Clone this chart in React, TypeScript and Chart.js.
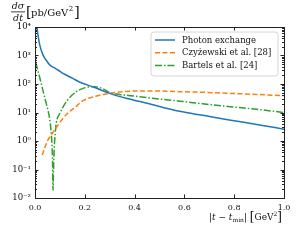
import React, { useEffect, useRef } from "react";
import { Chart, registerables } from "chart.js";

Chart.register(...registerables);

const photonX = [0.004, 0.008, 0.012, 0.019, 0.032, 0.045, 0.059, 0.075, 0.092, 0.119, 0.15, 0.181, 0.24, 0.3, 0.37, 0.45, 0.58, 0.68, 0.78, 0.89, 1.0];
const photonY = [14000, 9500, 5200, 2350, 1050, 680, 470, 380, 310, 220, 160, 115, 75, 47, 31, 21, 11, 7.8, 5.5, 3.8, 2.6];

const czyzX = [0.029, 0.04, 0.05, 0.062, 0.075, 0.088, 0.1, 0.126, 0.16, 0.193, 0.248, 0.3, 0.38, 0.48, 0.58, 0.68, 0.78, 0.89, 1.0];
const czyzY = [0.32, 0.6, 1.0, 1.5, 2.2, 3.2, 4.5, 8.5, 15, 26, 38, 47, 56, 57, 54, 51, 47, 43, 39];

const bartelsX = [0.003, 0.012, 0.025, 0.035, 0.045, 0.052, 0.059, 0.064, 0.068, 0.0705, 0.0725, 0.0745, 0.077, 0.081, 0.086, 0.099, 0.126, 0.166, 0.193, 0.215, 0.24, 0.27, 0.3, 0.34, 0.382, 0.48, 0.582, 0.68, 0.783, 0.89, 1.0];
const bartelsY = [560, 290, 105, 46, 21, 12, 6, 2.5, 0.8, 0.2, 0.019, 0.1, 0.5, 1.8, 4.5, 9, 24, 54, 70, 78, 80, 70, 50, 43, 39, 31, 25, 20, 16, 13, 10];

const xTicks = [0, 0.2, 0.4, 0.6, 0.8, 1.0];
const yTicks = [0.01, 0.1, 1, 10, 100, 1000, 10000];
const yTickLabels = ["10⁻²", "10⁻¹", "10⁰", "10¹", "10²", "10³", "10⁴"];

const seriesLabels = ["Photon exchange", "Czyżewski et al. [28]", "Bartels et al. [24]"];
const seriesColors = ["#1f77b4", "#ff7f0e", "#2ca02c"];
const seriesDash: number[][] = [[], [5, 2.5], [7, 2, 1.5, 2]];

const FONT = "DejaVu Serif";

type Seg = { t: string; font: string; dy?: number };

function drawSegs(ctx: CanvasRenderingContext2D, segs: Seg[], xRight: number, y: number) {
  let total = 0;
  for (const s of segs) {
    ctx.font = s.font;
    total += ctx.measureText(s.t).width;
  }
  let x = xRight - total;
  ctx.textAlign = "left";
  ctx.textBaseline = "alphabetic";
  for (const s of segs) {
    ctx.font = s.font;
    ctx.fillText(s.t, x, y + (s.dy || 0));
    x += ctx.measureText(s.t).width;
  }
}

const decorPlugin = {
  id: "decor",
  afterDraw(chart: any) {
    const ctx: CanvasRenderingContext2D = chart.ctx;
    const area = chart.chartArea;
    const xs = chart.scales.x;
    const ys = chart.scales.y;
    ctx.save();
    // frame
    ctx.strokeStyle = "#222";
    ctx.lineWidth = 1;
    ctx.setLineDash([]);
    ctx.strokeRect(Math.round(area.left) + 0.5, Math.round(area.top) + 0.5, Math.round(area.right - area.left), Math.round(area.bottom - area.top));
    // ticks
    ctx.beginPath();
    for (const v of xTicks) {
      const px = Math.round(xs.getPixelForValue(v)) + 0.5;
      ctx.moveTo(px, area.bottom);
      ctx.lineTo(px, area.bottom - 3.5);
      ctx.moveTo(px, area.top);
      ctx.lineTo(px, area.top + 3.5);
    }
    for (let k = -2; k <= 4; k++) {
      for (let m = 1; m <= 9; m++) {
        const v = m * Math.pow(10, k);
        if (v > 10000 || v < 0.01) continue;
        const py = Math.round(ys.getPixelForValue(v)) + 0.5;
        const len = m === 1 ? 3.5 : 2;
        ctx.moveTo(area.left, py);
        ctx.lineTo(area.left + len, py);
        ctx.moveTo(area.right, py);
        ctx.lineTo(area.right - len, py);
      }
    }
    ctx.stroke();

    // legend
    const lx = 151, ly = 32, lw = 127, lh = 44, r = 3;
    ctx.beginPath();
    ctx.moveTo(lx + r, ly);
    ctx.arcTo(lx + lw, ly, lx + lw, ly + lh, r);
    ctx.arcTo(lx + lw, ly + lh, lx, ly + lh, r);
    ctx.arcTo(lx, ly + lh, lx, ly, r);
    ctx.arcTo(lx, ly, lx + lw, ly, r);
    ctx.closePath();
    ctx.fillStyle = "rgba(255,255,255,0.8)";
    ctx.fill();
    ctx.strokeStyle = "#cccccc";
    ctx.lineWidth = 0.8;
    ctx.stroke();
    chart.data.datasets.forEach((ds: any, i: number) => {
      const yy = 40 + i * 12.7;
      ctx.beginPath();
      ctx.strokeStyle = ds.borderColor;
      ctx.lineWidth = 1.5;
      ctx.setLineDash(ds.borderDash || []);
      ctx.moveTo(155, yy);
      ctx.lineTo(175, yy);
      ctx.stroke();
      ctx.setLineDash([]);
      ctx.fillStyle = "#111";
      ctx.font = `8.5px "${FONT}"`;
      ctx.textAlign = "left";
      ctx.textBaseline = "middle";
      ctx.fillText(ds.label, 182, yy + 0.5);
    });

    // y title (fraction)
    ctx.fillStyle = "#111";
    ctx.textAlign = "center";
    ctx.textBaseline = "alphabetic";
    ctx.font = `italic 9.5px "${FONT}"`;
    ctx.fillText("dσ", 18, 9);
    ctx.fillText("dt", 18, 21);
    ctx.fillRect(11, 11.5, 14, 0.8);
    ctx.textAlign = "left";
    ctx.font = `14px "${FONT}"`;
    ctx.fillText("[", 26, 17);
    ctx.font = `10px "${FONT}"`;
    const inner = "pb/GeV";
    ctx.fillText(inner, 31, 16);
    const w = ctx.measureText(inner).width;
    ctx.font = `7px "${FONT}"`;
    ctx.fillText("2", 31 + w + 0.5, 11);
    const w2 = ctx.measureText("2").width;
    ctx.font = `14px "${FONT}"`;
    ctx.fillText("]", 31 + w + w2 + 1.5, 17);

    // x title
    ctx.fillStyle = "#111";
    drawSegs(ctx, [
      { t: "|", font: `9px "${FONT}"` },
      { t: "t", font: `italic 9px "${FONT}"` },
      { t: " − ", font: `9px "${FONT}"` },
      { t: "t", font: `italic 9px "${FONT}"` },
      { t: "min", font: `6px "${FONT}"`, dy: 2 },
      { t: "| ", font: `9px "${FONT}"` },
      { t: "[", font: `12px "${FONT}"`, dy: 1 },
      { t: "GeV", font: `9px "${FONT}"` },
      { t: "2", font: `6px "${FONT}"`, dy: -4 },
      { t: "]", font: `12px "${FONT}"`, dy: 1 },
    ], 282, 220);
    ctx.restore();
  },
};

export default function App() {
  const ref = useRef<HTMLCanvasElement | null>(null);
  useEffect(() => {
    if (!ref.current) return;
    const mk = (xsArr: number[], ysArr: number[]) => xsArr.map((x, i) => ({ x, y: ysArr[i] }));
    const chart = new Chart(ref.current, {
      type: "line",
      data: {
        datasets: [
          { label: seriesLabels[0], data: mk(photonX, photonY), borderColor: seriesColors[0], borderDash: seriesDash[0], borderWidth: 1.5, pointRadius: 0, cubicInterpolationMode: "monotone", clip: 0 } as any,
          { label: seriesLabels[1], data: mk(czyzX, czyzY), borderColor: seriesColors[1], borderDash: seriesDash[1], borderWidth: 1.5, pointRadius: 0, cubicInterpolationMode: "monotone", clip: 0 } as any,
          { label: seriesLabels[2], data: mk(bartelsX, bartelsY), borderColor: seriesColors[2], borderDash: seriesDash[2], borderWidth: 1.5, pointRadius: 0, cubicInterpolationMode: "monotone", clip: 0 } as any,
        ],
      },
      options: {
        animation: false,
        responsive: false,
        devicePixelRatio: 1,
        layout: { padding: { left: 0, top: 27, right: 16, bottom: 22 } },
        plugins: { legend: { display: false }, tooltip: { enabled: false } },
        scales: {
          x: {
            type: "linear",
            min: 0,
            max: 1,
            grid: { display: false, drawTicks: false },
            border: { display: false },
            afterBuildTicks: (s: any) => { s.ticks = xTicks.map((v) => ({ value: v })); },
            afterFit: (s: any) => { s.height = 20; },
            ticks: { padding: 5, color: "#111", font: { family: FONT, size: 8 }, callback: (v: any) => Number(v).toFixed(1), maxRotation: 0, autoSkip: false },
          },
          y: {
            type: "logarithmic",
            min: 0.01,
            max: 10000,
            grid: { display: false, drawTicks: false },
            border: { display: false },
            afterBuildTicks: (s: any) => { s.ticks = yTicks.map((v) => ({ value: v })); },
            afterFit: (s: any) => { s.width = 35; },
            ticks: {
              padding: 4,
              color: "#111",
              font: { family: FONT, size: 8.5 },
              autoSkip: false,
              callback: (v: any) => {
                const i = yTicks.findIndex((t) => Math.abs(Math.log10(t) - Math.log10(Number(v))) < 1e-6);
                return i >= 0 ? yTickLabels[i] : null;
              },
            },
          },
        },
      },
      plugins: [decorPlugin],
    });
    return () => chart.destroy();
  }, []);
  return (
    <div style={{ position: "fixed", left: 0, top: 0, width: 300, height: 240, background: "#fff" }}>
      <canvas ref={ref} width={300} height={240} style={{ width: 300, height: 240 }} />
    </div>
  );
}
